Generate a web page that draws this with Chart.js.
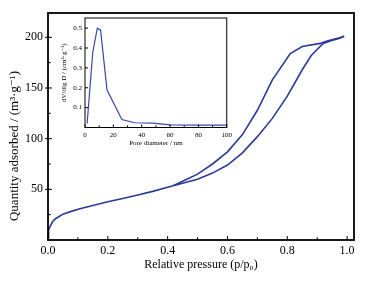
<!DOCTYPE html>
<html>
<head>
<meta charset="utf-8">
<script src="https://cdn.jsdelivr.net/npm/chart.js@4.4.1/dist/chart.umd.min.js"></script>
<style>
    html, body { margin: 0; padding: 0; background: #fff; }
    #wrap { position: relative; width: 379px; height: 281px; }
    #mainChart { position: absolute; left: 0; top: 0; }
    #insetChart { position: absolute; left: 60px; top: 8px; }
</style>
</head>
<body>
<div id="wrap">
    <canvas id="mainChart" width="379" height="281"></canvas>
    <canvas id="insetChart" width="175" height="145"></canvas>
</div>
<script>
// isotherm, adsorption branch
const pressureAds = [0.0005, 0.001, 0.003, 0.008, 0.015, 0.025, 0.05, 0.08, 0.11, 0.15, 0.2, 0.25, 0.3, 0.35, 0.4, 0.45, 0.5, 0.55, 0.6, 0.65, 0.7, 0.75, 0.8, 0.85, 0.88, 0.92, 0.955, 0.975, 0.99];
const quantityAds = [2, 5, 10, 14, 18, 21, 25.5, 28.5, 31, 34, 37.8, 41, 44.5, 48, 52, 56, 60, 66, 74, 86, 102, 120, 142, 168, 182, 194, 197.5, 199, 201];
// desorption branch
const pressureDes = [0.99, 0.975, 0.955, 0.93, 0.91, 0.85, 0.81, 0.75, 0.7, 0.65, 0.6, 0.55, 0.5, 0.45, 0.42];
const quantityDes = [201, 199.5, 198, 196, 194, 191, 184, 158, 128, 104, 87, 75, 65, 58, 53.8];

// inset: pore size distribution
const poreDiameter = [1.5, 5.5, 8.7, 11, 15.5, 26, 35, 48, 60, 80, 100];
const poreVolume = [0.02, 0.38, 0.5, 0.49, 0.19, 0.04, 0.024, 0.022, 0.013, 0.012, 0.012];

const mainXTicks = [0, 0.2, 0.4, 0.6, 0.8, 1.0];
const mainXMinor = [0.1, 0.3, 0.5, 0.7, 0.9];
const mainYTicks = [50, 100, 150, 200];
const mainYMinor = [25, 75, 125, 175];
const insetXTicks = [0, 20, 40, 60, 80, 100];
const insetXMinor = [10, 30, 50, 70, 90];
const insetYTicks = [0.1, 0.2, 0.3, 0.4, 0.5];

const serif = "'Liberation Serif', 'DejaVu Serif', serif";

// box round the plot area and inward tick marks
const frameTicks = {
    id: 'frameTicks',
    afterDraw(chart, args, opts) {
        const ctx = chart.ctx;
        const a = chart.chartArea;
        const x = chart.scales.x;
        const y = chart.scales.y;
        ctx.save();
        ctx.strokeStyle = '#000';
        ctx.lineWidth = 1;
        const tick = (px, py, dx, dy) => {
            ctx.beginPath();
            ctx.moveTo(px, py);
            ctx.lineTo(px + dx, py + dy);
            ctx.stroke();
        };
        opts.xMajor.forEach(v => tick(x.getPixelForValue(v), a.bottom, 0, -opts.len));
        opts.xMinor.forEach(v => tick(x.getPixelForValue(v), a.bottom, 0, -opts.len * 0.7));
        opts.yMajor.forEach(v => tick(a.left - opts.out, y.getPixelForValue(v), opts.len + opts.out, 0));
        opts.yMinor.forEach(v => tick(a.left, y.getPixelForValue(v), opts.len * 0.7, 0));
        ctx.lineWidth = opts.border;
        ctx.strokeRect(a.left, a.top, a.right - a.left, a.bottom - a.top);
        if (opts.yTitle) {
            ctx.fillStyle = '#000';
            ctx.font = opts.yTitle.font;
            ctx.textAlign = 'center';
            ctx.textBaseline = 'middle';
            ctx.translate(opts.yTitle.x, opts.yTitle.y);
            ctx.rotate(-Math.PI / 2);
            ctx.fillText(opts.yTitle.text, 0, 0);
        }
        ctx.restore();
    }
};

const lineColor = '#2B3A98';

new Chart(document.getElementById('mainChart'), {
    type: 'scatter',
    data: {
        datasets: [
            {
                label: 'Adsorption',
                data: pressureAds.map((p, i) => ({ x: p, y: quantityAds[i] })),
                showLine: true,
                borderColor: lineColor,
                borderWidth: 1.6,
                pointRadius: 0,
                tension: 0
            },
            {
                label: 'Desorption',
                data: pressureDes.map((p, i) => ({ x: p, y: quantityDes[i] })),
                showLine: true,
                borderColor: lineColor,
                borderWidth: 1.6,
                pointRadius: 0,
                tension: 0
            }
        ]
    },
    options: {
        responsive: false,
        animation: false,
        layout: { padding: { left: 0, right: 25, top: 13, bottom: 0 } },
        plugins: {
            legend: { display: false },
            tooltip: { enabled: false },
            frameTicks: {
                xMajor: mainXTicks, xMinor: mainXMinor,
                yMajor: mainYTicks, yMinor: mainYMinor,
                len: 4, out: 3, border: 1.8,
                yTitle: { text: 'Quantity adsorbed / (m³·g⁻¹)', x: 15, y: 146, font: '13px ' + serif }
            }
        },
        scales: {
            x: {
                type: 'linear',
                min: 0,
                max: 1.023,
                afterBuildTicks: s => { s.ticks = mainXTicks.map(v => ({ value: v })); },
                afterFit: s => { s.height = 41; },
                grid: { display: false, drawTicks: false },
                border: { display: false },
                ticks: {
                    color: '#000',
                    padding: 4,
                    font: { family: serif, size: 12 },
                    callback: v => v.toFixed(1)
                },
                title: {
                    display: true,
                    text: 'Relative pressure (p/p₀)',
                    color: '#000',
                    padding: { top: 3, bottom: 9 },
                    font: { family: serif, size: 12 }
                }
            },
            y: {
                type: 'linear',
                min: 0,
                max: 224,
                afterBuildTicks: s => { s.ticks = mainYTicks.map(v => ({ value: v })); },
                afterFit: s => { s.width = 48; },
                grid: { display: false, drawTicks: false },
                border: { display: false },
                ticks: {
                    color: '#000',
                    padding: 5,
                    font: { family: serif, size: 12 }
                }
            }
        }
    },
    plugins: [frameTicks]
});

new Chart(document.getElementById('insetChart'), {
    type: 'scatter',
    data: {
        datasets: [{
            label: 'Pore size distribution',
            data: poreDiameter.map((d, i) => ({ x: d, y: poreVolume[i] })),
            showLine: true,
            borderColor: '#3447B0',
            borderWidth: 1.2,
            pointRadius: 0,
            tension: 0
        }]
    },
    options: {
        responsive: false,
        animation: false,
        layout: { padding: { left: 0, right: 7, top: 10, bottom: 0 } },
        plugins: {
            legend: { display: false },
            tooltip: { enabled: false },
            frameTicks: {
                xMajor: insetXTicks, xMinor: insetXMinor,
                yMajor: insetYTicks, yMinor: [],
                len: 3, out: 0, border: 1
            }
        },
        scales: {
            x: {
                type: 'linear',
                min: 0,
                max: 100,
                afterBuildTicks: s => { s.ticks = insetXTicks.map(v => ({ value: v })); },
                afterFit: s => { s.height = 25.5; },
                grid: { display: false, drawTicks: false },
                border: { display: false },
                ticks: {
                    color: '#000',
                    padding: 3,
                    font: { family: serif, size: 7 }
                },
                title: {
                    display: true,
                    text: 'Pore diameter / nm',
                    color: '#000',
                    padding: { top: 1, bottom: 6 },
                    font: { family: serif, size: 7 }
                }
            },
            y: {
                type: 'linear',
                min: 0,
                max: 0.551,
                afterBuildTicks: s => { s.ticks = insetYTicks.map(v => ({ value: v })); },
                afterFit: s => { s.width = 25; },
                grid: { display: false, drawTicks: false },
                border: { display: false },
                ticks: {
                    color: '#000',
                    padding: 3,
                    font: { family: serif, size: 7 },
                    callback: v => v.toFixed(1)
                },
                title: {
                    display: true,
                    text: 'dV/dlg D / (cm³·g⁻¹)',
                    color: '#000',
                    padding: 0,
                    font: { family: serif, size: 7 }
                }
            }
        }
    },
    plugins: [frameTicks]
});
</script>
</body>
</html>
